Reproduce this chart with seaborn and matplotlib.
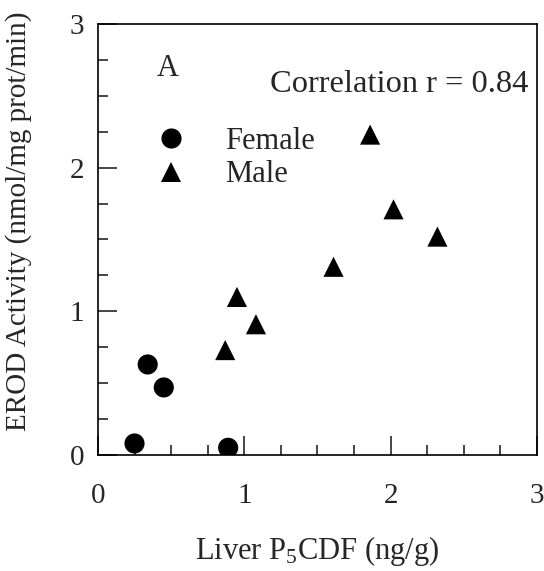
import matplotlib
matplotlib.use("Agg")
import matplotlib.pyplot as plt
import seaborn as sns
import pandas as pd
from matplotlib.ticker import MultipleLocator

female_x = [0.25, 0.34, 0.45, 0.89]
female_y = [0.08, 0.63, 0.47, 0.05]
male_x = [0.87, 0.95, 1.08, 1.61, 1.86, 2.02, 2.32]
male_y = [0.73, 1.10, 0.91, 1.31, 2.23, 1.71, 1.52]
sexes = ["Female", "Male"]
x_ticks = [0, 1, 2, 3]
y_ticks = [0, 1, 2, 3]

df = pd.DataFrame({
    "x": female_x + male_x,
    "y": female_y + male_y,
    "Sex": [sexes[0]] * len(female_x) + [sexes[1]] * len(male_x),
})

sns.set_style("white")
plt.rcParams["font.family"] = ["Liberation Serif", "DejaVu Serif"]
plt.rcParams["mathtext.fontset"] = "custom"
plt.rcParams["mathtext.rm"] = "Liberation Serif"
plt.rcParams["mathtext.it"] = "Liberation Serif:italic"

fig = plt.figure(figsize=(5.44, 5.71), dpi=100)
ax = fig.add_axes([0.180, 0.2032, 0.807, 0.7548])

sns.scatterplot(data=df, x="x", y="y", style="Sex",
                markers={"Female": "o", "Male": "^"},
                color="black", s=210, linewidth=0, ax=ax, legend=True)

ax.set_xlim(0, 3)
ax.set_ylim(0, 3)
ax.set_xticks(x_ticks)
ax.set_yticks(y_ticks)
ax.xaxis.set_minor_locator(MultipleLocator(0.25))
ax.yaxis.set_minor_locator(MultipleLocator(0.25))
ax.tick_params(which="major", direction="in", length=14, width=1.2,
               labelsize=21, top=False, right=False,
               bottom=True, left=True)
ax.tick_params(axis="x", which="major", pad=20)
ax.tick_params(axis="y", which="major", pad=10)
ax.tick_params(which="minor", direction="in", length=7, width=1.2,
               top=False, right=False, bottom=True, left=True)
for sp in ax.spines.values():
    sp.set_linewidth(1.2)
    sp.set_color("black")

ax.set_xlabel("Liver P$_5$CDF (ng/g)", fontsize=22, labelpad=18)
ax.set_ylabel("EROD Activity (nmol/mg prot/min)", fontsize=21)
ax.yaxis.set_label_coords(-0.150, 0.543)

ax.text(0.48, 2.69, "A", fontsize=22, ha="center", va="center")
ax.text(2.94, 2.58, "Correlation r = 0.84", fontsize=23.4, ha="right", va="center")

leg = ax.legend(loc="upper left", bbox_to_anchor=(0.07, 0.79), frameon=False,
                fontsize=22, handletextpad=0.77, labelspacing=0.15,
                markerscale=1.0, borderaxespad=0)
for h in leg.legend_handles:
    if hasattr(h, "set_sizes"):
        h.set_sizes([210])

fig.savefig("out.png", dpi=100)
